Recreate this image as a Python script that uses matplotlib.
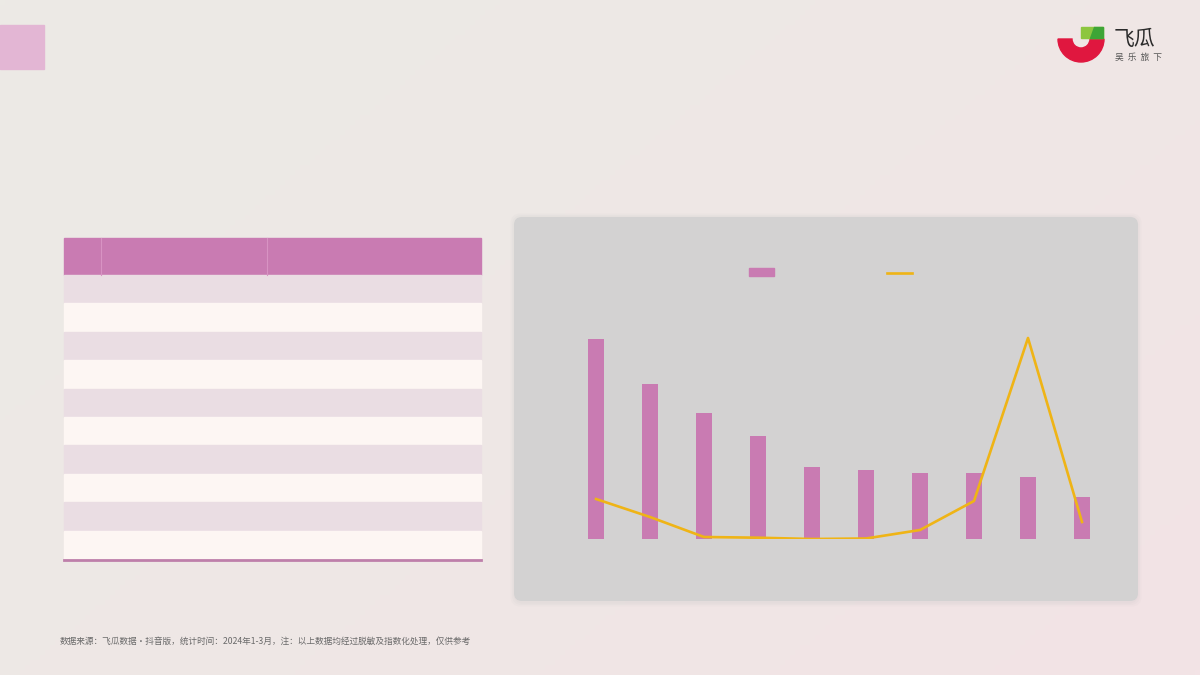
import numpy as np
import matplotlib
matplotlib.use('Agg')
import matplotlib.pyplot as plt
from matplotlib.patches import Rectangle, FancyBboxPatch, Wedge, Polygon, Patch
from matplotlib.lines import Line2D

plt.rcParams['font.family'] = ['Noto Sans CJK SC', 'DejaVu Sans']

# chart data (no labels are printed in the original)
categories = ['', '', '', '', '', '', '', '', '', '']
bar_values = [200, 155, 126, 103, 72, 69, 66, 66, 62, 42]
line_values = [40, 22, 2, 1.3, 0, 0.5, 9, 38, 201, 17]
table_rows = 10
footer = '数据来源：飞瓜数据·抖音版，统计时间：2024年1-3月，注：以上数据均经过脱敏及指数化处理，仅供参考'

PINK = '#C97BB2'
YELLOW = '#EFB416'
W, H = 1200, 675

fig = plt.figure(figsize=(12, 6.75), dpi=100)

# background in pixel coordinates (y up)
bg = fig.add_axes([0, 0, 1, 1])
bg.set_xlim(0, W); bg.set_ylim(0, H); bg.axis('off')
gx, gy = np.meshgrid(np.linspace(0, 1, 240), np.linspace(0, 1, 135))
# image row 0 is the top, so gy grows downwards: pinker towards bottom-right
t = np.clip(0.6 * gx + 0.4 * gy, 0, 1)[..., None] ** 1.4
c0 = np.array([0xEC, 0xEA, 0xE5]) / 255
c1 = np.array([0xF3, 0xE3, 0xE6]) / 255
bg.imshow(c0 * (1 - t) + c1 * t, extent=(0, W, 0, H), origin='upper', aspect='auto', zorder=0)

def py(y):
    return H - y

# top-left accent square
bg.add_patch(Rectangle((0, py(69)), 44, 44, color='#E3B6D4', zorder=1))

# logo
bg.add_patch(Wedge((1081, py(39)), 23, 180, 360, width=14, color='#E0173F', zorder=2))
bg.add_patch(Rectangle((1081, py(38)), 22, 11, color='#8DC63F', zorder=2))
bg.add_patch(Polygon([(1094, py(27)), (1103, py(27)), (1103, py(38)), (1090, py(38))],
                     color='#3EA536', zorder=3))
bg.text(1114, py(39), '飞瓜', fontsize=15, color='#2b2b2b', va='center', ha='left', zorder=3)
bg.text(1115, py(57), '吴  乐  旅  下', fontsize=6.3, color='#555555', va='center', ha='left', zorder=3)

# table (empty cells)
tx0, tx1 = 64, 481
header_top, header_bot = 238, 275
row_h = (559 - header_bot) / table_rows
bg.add_patch(Rectangle((tx0, py(header_bot)), tx1 - tx0, header_bot - header_top, color=PINK, zorder=2))
for xdiv in (101, 267):
    bg.plot([xdiv, xdiv], [py(header_bot), py(header_top)], color='#D893C3', lw=0.8, zorder=3)
for i in range(table_rows):
    top = header_bot + i * row_h
    col = '#EADDE3' if i % 2 == 0 else '#FDF6F3'
    bg.add_patch(Rectangle((tx0, py(top + row_h)), tx1 - tx0, row_h, color=col, zorder=2))
bg.plot([tx0, tx1], [py(560), py(560)], color='#BE7FAA', lw=2, zorder=3)

# chart panel with soft shadow
px0, px1, ptop, pbot = 514, 1138, 217, 601
for k, a in enumerate([0.03, 0.03, 0.03]):
    s = 1.5 * (k + 1)
    bg.add_patch(FancyBboxPatch((px0 - s + 1, py(pbot) - s - 1), px1 - px0 + 2 * s - 2, pbot - ptop + 2 * s,
                                boxstyle='round,pad=0,rounding_size=10', fc='#888888', ec='none',
                                alpha=a, zorder=1))
bg.add_patch(FancyBboxPatch((px0, py(pbot)), px1 - px0, pbot - ptop,
                            boxstyle='round,pad=0,rounding_size=8', fc='#D3D2D2', ec='none', zorder=2))

# footer
bg.text(60, py(641), footer, fontsize=6.25, color='#6a6a6a', va='center', ha='left', zorder=3)

# bar + line chart
ax = fig.add_axes([569 / W, (H - 539) / H, 540 / W, 250 / H])
ax.patch.set_alpha(0)
x = np.arange(len(bar_values))
ax.bar(x, bar_values, width=0.31, color=PINK, zorder=2)
ax.plot(x, line_values, color=YELLOW, lw=1.9, zorder=3, solid_joinstyle='round')
ax.set_xlim(-0.5, len(bar_values) - 0.5)
ax.set_ylim(0, 250)
ax.set_xticks(x)
ax.set_xticklabels(categories)
ax.tick_params(length=0, labelleft=False)
for sp in ax.spines.values():
    sp.set_visible(False)
ax.axhline(0, color='#DADADA', lw=0.8, zorder=1)

handles = [Patch(color=PINK), Line2D([], [], color=YELLOW, lw=1.9)]
fig.legend(handles, ['', ''], ncol=2, loc='center', bbox_to_anchor=(836 / W, 1 - 273 / H),
           frameon=False, fontsize=10, handlelength=1.8, handleheight=0.45,
           handletextpad=0.8, columnspacing=7.4)

fig.savefig('out.png', dpi=100)
